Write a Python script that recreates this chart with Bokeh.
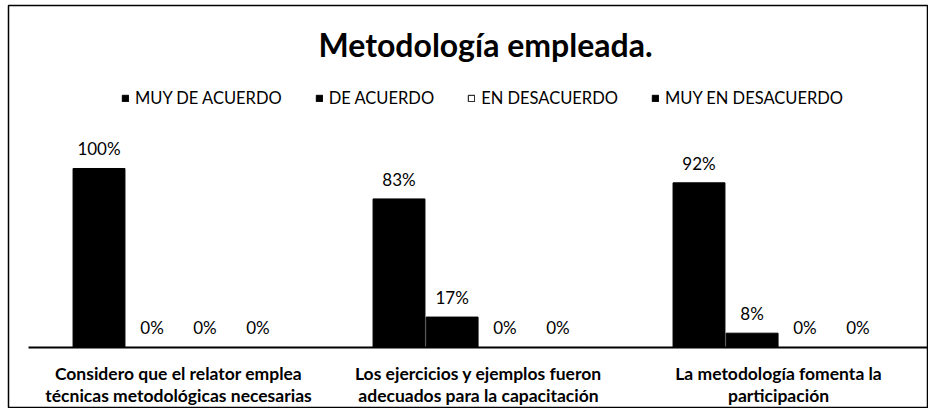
from bokeh.plotting import figure
from bokeh.models import ColumnDataSource, Legend, LegendItem, LabelSet, Label, Range1d
from bokeh.core.properties import value
from bokeh.embed import file_html
from bokeh.resources import INLINE

categories = [
    "Considero que el relator emplea\ntécnicas metodológicas necesarias",
    "Los ejercicios y ejemplos fueron\nadecuados para la capacitación",
    "La metodología fomenta la\nparticipación",
]
series_names = ["MUY DE ACUERDO", "DE ACUERDO", "EN DESACUERDO", "MUY EN DESACUERDO"]
muy_de_acuerdo = [1.00, 0.83, 0.92]
de_acuerdo = [0.00, 0.17, 0.08]
en_desacuerdo = [0.00, 0.00, 0.00]
muy_en_desacuerdo = [0.00, 0.00, 0.00]
series_values = [muy_de_acuerdo, de_acuerdo, en_desacuerdo, muy_en_desacuerdo]
title_text = "Metodología empleada."

FONT = "Lato"
fills = ["black", "black", "white", "black"]
offsets = [-0.265, -0.088, 0.088, 0.265]
bar_w = 0.173
idx = list(range(len(categories)))

p = figure(
    x_range=Range1d(-0.5667, 2.5),
    y_range=Range1d(-0.3408, 1.9106),
    width=928, height=408,
    output_backend="svg", toolbar_location=None,
    min_border=0, min_border_left=8, min_border_top=5,
)
p.xaxis.visible = False
p.yaxis.visible = False
p.xgrid.visible = False
p.ygrid.visible = False
p.outline_line_color = "black"
p.outline_line_width = 1.5

# baseline (category axis line)
p.segment(x0=[idx[0] - 0.5], y0=[0], x1=[idx[-1] + 0.5], y1=[0],
          line_color="black", line_width=2)

# title
p.add_layout(Label(x=1.0233, y=1.69, text=title_text, text_align="center",
                   text_baseline="alphabetic", text_font=FONT,
                   text_font_size="32px", text_font_style="bold",
                   text_color="black"))

# category labels below the baseline, one LabelSet per line
lines = [c.split("\n") for c in categories]
for k, y_off in enumerate([-33, -55]):
    src = ColumnDataSource(dict(x=idx, y=[0] * len(idx),
                                label=[ln[k] if k < len(ln) else "" for ln in lines]))
    p.add_layout(LabelSet(x="x", y="y", text="label", source=src,
                          text_align="center", text_baseline="alphabetic",
                          y_offset=y_off, text_font=value(FONT),
                          text_font_size="17.5px", text_font_style="bold",
                          text_color="black"))

items = []
for name, vals, off, fc in zip(series_names, series_values, offsets, fills):
    src = ColumnDataSource(dict(
        x=[i + off for i in idx], y=vals,
        label=[f"{round(v * 100)}%" for v in vals]))
    r = p.vbar(x="x", top="y", width=bar_w, source=src,
               fill_color=fc, line_color="black", line_width=1)
    items.append(LegendItem(label=name, renderers=[r]))
    p.add_layout(LabelSet(x="x", y="y", text="label", source=src,
                          text_align="center", text_baseline="alphabetic",
                          y_offset=13, text_font=value(FONT),
                          text_font_size="17px", text_color="black"))

legend = Legend(items=items, orientation="horizontal", location=(113, 300),
                glyph_width=8, glyph_height=8, spacing=33, margin=0, padding=2,
                label_height=18, label_text_font=FONT,
                label_text_font_size="16.5px", label_text_color="black",
                label_standoff=6, border_line_color=None,
                background_fill_alpha=0)
p.add_layout(legend)

open("out.html", "w").write(file_html(p, INLINE))
